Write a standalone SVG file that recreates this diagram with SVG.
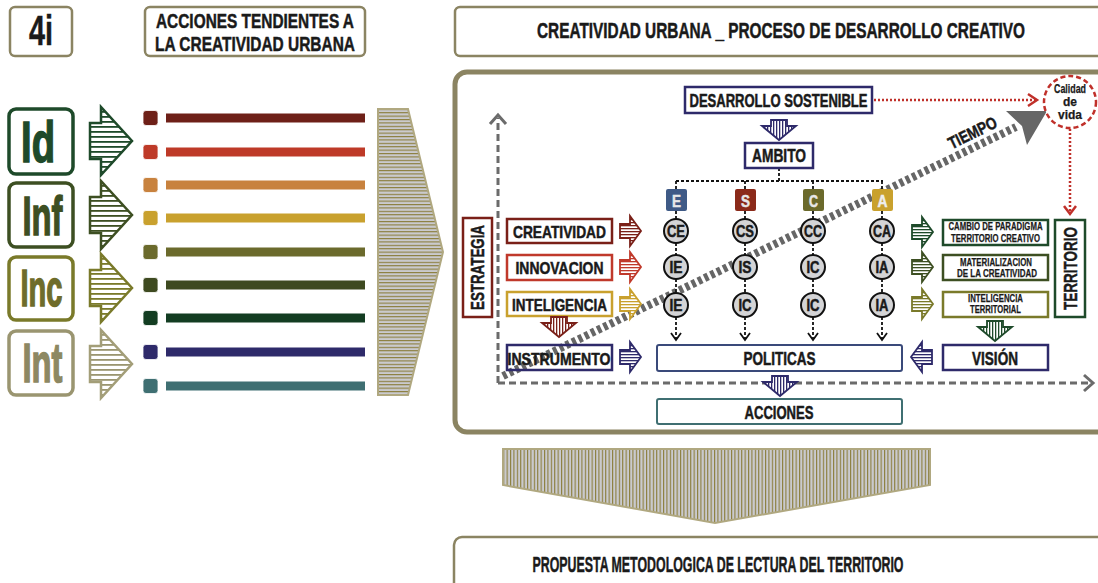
<svg xmlns="http://www.w3.org/2000/svg" xmlns:xlink="http://www.w3.org/1999/xlink" width="1098" height="583" viewBox="0 0 1098 583">
<style>
.t{font-family:"Liberation Sans Narrow","Liberation Sans",Arial,sans-serif;font-weight:bold;fill:#1a1a1a;stroke:#1a1a1a;stroke-width:0.5}
.s{stroke-width:0.25}
.m{text-anchor:middle}
.tb{fill:#fff;stroke:#8b8462;stroke-width:2.5}
.bx{fill:#fff;stroke-width:2.5}
.circ{fill:#d4d4d6;stroke:#111;stroke-width:2}
.dk{stroke:#111;stroke-width:1.8;stroke-dasharray:3 2;fill:none}
.ch{stroke:#111;stroke-width:1.8;fill:none}
.gax{stroke:#6b6b6b;stroke-width:3;stroke-dasharray:7 4;fill:none}
.gch{stroke:#6b6b6b;stroke-width:3;fill:none}
.red{stroke:#c0302a;stroke-width:2.5;fill:none}
.ico{fill:#fff;stroke-width:3.5}
.sq{stroke:#fff;stroke-width:0.8}
.la{stroke-width:2.5}
.sa{stroke-width:1.8}
</style>
<defs>
<pattern id="hs-dr" width="4" height="3" patternUnits="userSpaceOnUse"><rect width="4" height="3" fill="#fff"/><rect width="4" height="1.3" fill="#7a2018"/></pattern>
<pattern id="hs-rd" width="4" height="3" patternUnits="userSpaceOnUse"><rect width="4" height="3" fill="#fff"/><rect width="4" height="1.3" fill="#c0392b"/></pattern>
<pattern id="hs-mu" width="4" height="3" patternUnits="userSpaceOnUse"><rect width="4" height="3" fill="#fff"/><rect width="4" height="1.3" fill="#c9a12e"/></pattern>
<pattern id="hs-nv" width="4" height="3" patternUnits="userSpaceOnUse"><rect width="4" height="3" fill="#fff"/><rect width="4" height="1.3" fill="#2e2a6a"/></pattern>
<pattern id="hs-gr" width="4" height="3" patternUnits="userSpaceOnUse"><rect width="4" height="3" fill="#fff"/><rect width="4" height="1.3" fill="#1e4a2a"/></pattern>
<pattern id="hs-og" width="4" height="3" patternUnits="userSpaceOnUse"><rect width="4" height="3" fill="#fff"/><rect width="4" height="1.3" fill="#3d4f22"/></pattern>
<pattern id="hs-ol" width="4" height="3" patternUnits="userSpaceOnUse"><rect width="4" height="3" fill="#fff"/><rect width="4" height="1.3" fill="#7a7a2a"/></pattern>
<pattern id="vs-nv" width="3" height="4" patternUnits="userSpaceOnUse"><rect width="3" height="4" fill="#fff"/><rect width="1.3" height="4" fill="#2e2a6a"/></pattern>
<pattern id="vs-dr" width="3" height="4" patternUnits="userSpaceOnUse"><rect width="3" height="4" fill="#fff"/><rect width="1.3" height="4" fill="#7a2018"/></pattern>
<pattern id="vs-gr" width="3" height="4" patternUnits="userSpaceOnUse"><rect width="3" height="4" fill="#fff"/><rect width="1.3" height="4" fill="#1e4a2a"/></pattern>
<pattern id="hl-1" width="5" height="5" patternUnits="userSpaceOnUse"><rect width="5" height="5" fill="#fff"/><rect width="5" height="1.8" fill="#1e4a2a"/></pattern>
<pattern id="hl-2" width="5" height="5" patternUnits="userSpaceOnUse"><rect width="5" height="5" fill="#fff"/><rect width="5" height="1.8" fill="#3d4f22"/></pattern>
<pattern id="hl-3" width="5" height="5" patternUnits="userSpaceOnUse"><rect width="5" height="5" fill="#fff"/><rect width="5" height="1.8" fill="#7a7a2a"/></pattern>
<pattern id="hl-4" width="5" height="5" patternUnits="userSpaceOnUse"><rect width="5" height="5" fill="#fff"/><rect width="5" height="1.8" fill="#9a9570"/></pattern>
<pattern id="bigH" width="6" height="3.4" patternUnits="userSpaceOnUse"><rect width="6" height="3.4" fill="#cacace"/><rect width="6" height="1.1" fill="#8a7d3a"/></pattern>
<pattern id="bigV" width="3.4" height="6" patternUnits="userSpaceOnUse"><rect width="3.4" height="6" fill="#cacace"/><rect width="1.1" height="6" fill="#8a7d3a"/></pattern>
<path id="arL" d="M-21,-18 H-10 V-34 L21,0 L-10,34 V18 H-21 Z"/>
<path id="arR" d="M-10,-7 H0 V-15 L11,0 L0,15 V7 H-10 Z"/>
<path id="arLeft" d="M10,-7 H0 V-15 L-11,0 L0,15 V7 H10 Z"/>
<path id="arD" d="M-8,-10 H8 V-4 H17 L0,10 L-17,-4 H-8 Z"/>
</defs>

<!-- title boxes -->
<g id="n-4i"><rect class="tb" x="10" y="7" width="62" height="49" rx="5"/><text class="t m" x="41" y="45" font-size="42" textLength="24" lengthAdjust="spacingAndGlyphs" stroke-width="0.8">4i</text></g>
<g id="n-acciones-tend"><rect class="tb" x="145" y="7" width="220" height="49" rx="5"/>
<text class="t m" x="255" y="28" font-size="21" textLength="198" lengthAdjust="spacingAndGlyphs">ACCIONES TENDIENTES A</text>
<text class="t m" x="255" y="51" font-size="21" textLength="200" lengthAdjust="spacingAndGlyphs">LA CREATIVIDAD URBANA</text></g>
<g id="n-titulo"><rect class="tb" x="455" y="7" width="680" height="49" rx="5"/>
<text class="t m" x="781" y="38" font-size="22" textLength="488" lengthAdjust="spacingAndGlyphs">CREATIVIDAD URBANA _ PROCESO DE DESARROLLO CREATIVO</text></g>

<!-- left icons -->
<g id="n-id"><rect class="ico" x="9" y="109" width="64" height="65" rx="7" stroke="#1e4a2a"/><text class="t m" x="38" y="162" font-size="58" style="fill:#1e4a2a;stroke:#1e4a2a;stroke-width:1.5" textLength="34" lengthAdjust="spacingAndGlyphs">Id</text></g>
<g id="n-inf"><rect class="ico" x="9" y="183" width="64" height="64" rx="7" stroke="#3d4f22"/><text class="t m" x="42.5" y="235" font-size="55" style="fill:#3d4f22;stroke:#3d4f22;stroke-width:1.5" textLength="40" lengthAdjust="spacingAndGlyphs">Inf</text></g>
<g id="n-inc"><rect class="ico" x="9" y="257" width="64" height="63" rx="7" stroke="#7a7a2a"/><text class="t m" x="41.5" y="306" font-size="52" style="fill:#6e6c2a;stroke:#6e6c2a;stroke-width:1.5" textLength="42" lengthAdjust="spacingAndGlyphs">Inc</text></g>
<g id="n-int"><rect class="ico" x="9" y="331" width="64" height="64" rx="7" stroke="#9a9570"/><text class="t m" x="42.5" y="382" font-size="55" style="fill:#8d8862;stroke:#8d8862;stroke-width:1.5" textLength="40" lengthAdjust="spacingAndGlyphs">Int</text></g>

<g id="left-arrows">
<use href="#arL" x="111" y="141" fill="url(#hl-1)" stroke="#1e4a2a" class="la"/>
<use href="#arL" x="111" y="215" fill="url(#hl-2)" stroke="#3d4f22" class="la"/>
<use href="#arL" x="111" y="288" fill="url(#hl-3)" stroke="#7a7a2a" class="la"/>
<use href="#arL" x="111" y="364" fill="url(#hl-4)" stroke="#a39e78" class="la"/>
</g>

<g id="color-bars">
<rect class="sq" x="143" y="110.5" width="15" height="15" rx="3" fill="#6e2018"/><rect x="166" y="113.5" width="199" height="9" fill="#6e2018"/>
<rect class="sq" x="143" y="144.5" width="15" height="15" rx="3" fill="#be3a28"/><rect x="166" y="147.5" width="199" height="9" fill="#be3a28"/>
<rect class="sq" x="143" y="177.5" width="15" height="15" rx="3" fill="#c8823e"/><rect x="166" y="180.5" width="199" height="9" fill="#c8823e"/>
<rect class="sq" x="143" y="210.5" width="15" height="15" rx="3" fill="#c9a12e"/><rect x="166" y="213.5" width="199" height="9" fill="#c9a12e"/>
<rect class="sq" x="143" y="244.5" width="15" height="15" rx="3" fill="#6b6a2c"/><rect x="166" y="247.5" width="199" height="9" fill="#6b6a2c"/>
<rect class="sq" x="143" y="277.5" width="15" height="15" rx="3" fill="#3e4a20"/><rect x="166" y="280.5" width="199" height="9" fill="#3e4a20"/>
<rect class="sq" x="143" y="310.5" width="15" height="15" rx="3" fill="#133d22"/><rect x="166" y="313.5" width="199" height="9" fill="#133d22"/>
<rect class="sq" x="143" y="344.5" width="15" height="15" rx="3" fill="#2e2a6a"/><rect x="166" y="347.5" width="199" height="9" fill="#2e2a6a"/>
<rect class="sq" x="143" y="378.5" width="15" height="15" rx="3" fill="#3f6f72"/><rect x="166" y="381.5" width="199" height="9" fill="#3f6f72"/>
</g>

<g id="big-arrow-right"><polygon points="378,109 408,109 443,252 408,395 378,395" fill="url(#bigH)" stroke="#b0a880" stroke-width="2"/></g>

<!-- main frame -->
<g id="frame"><rect x="455" y="72" width="680" height="360" rx="12" fill="#fff" stroke="#8b8462" stroke-width="5"/></g>

<g id="connectors">
<line class="gax" x1="498" y1="383" x2="498" y2="118"/>
<polyline class="gch" points="490,124 498,115 506,124"/>
<line class="gax" x1="498" y1="383" x2="1090" y2="383"/>
<polyline class="gch" points="1084,375 1093,383 1084,391"/>
<line x1="503" y1="376" x2="1016" y2="127" stroke="#666" stroke-width="8" stroke-dasharray="4 3"/>
<polygon points="1047,111 1027,145 1022,126 1006,111" fill="#666"/>
<line class="red" x1="874" y1="100" x2="1036" y2="100" stroke-dasharray="2 2"/>
<polyline class="red" points="1028,94 1037,100 1028,106"/>
<line class="red" x1="1070" y1="129" x2="1070" y2="213" stroke-dasharray="2 2"/>
<polyline class="red" points="1064,206 1070,214 1076,206"/>
<path class="dk" d="M779,168 V181 M676,181 H883 M676,181 V189 M745,181 V189 M813,181 V189 M882,181 V189"/>
<path class="dk" d="M676,211 V219 M676,243 V255 M676,279 V293 M676,317 V338 M745,211 V219 M745,243 V255 M745,279 V293 M745,317 V338 M813,211 V219 M813,243 V255 M813,279 V293 M813,317 V338 M882,211 V219 M882,243 V255 M882,279 V293 M882,317 V338"/>
<path class="ch" d="M671,333 L676,340 L681,333 M740,333 L745,340 L750,333 M808,333 L813,340 L818,333 M877,333 L882,340 L887,333"/>
</g>

<g id="n-tiempo"><text class="t m" x="975" y="138" font-size="17" transform="rotate(-26 975 138)" textLength="52" lengthAdjust="spacingAndGlyphs">TIEMPO</text></g>

<g id="n-desarrollo"><rect class="bx" x="685" y="87" width="187" height="26" stroke="#2e2a6a"/><text class="t m" x="778.5" y="106.5" font-size="18" textLength="178" lengthAdjust="spacingAndGlyphs">DESARROLLO SOSTENIBLE</text></g>
<g id="n-calidad"><circle cx="1070" cy="102" r="26" fill="#fff" stroke="#c0302a" stroke-width="2.5" stroke-dasharray="5 3"/>
<text class="t m s" x="1070" y="93" font-size="12" textLength="32" lengthAdjust="spacingAndGlyphs">Calidad</text><text class="t m s" x="1070" y="106" font-size="12">de</text><text class="t m s" x="1070" y="119" font-size="12">vida</text></g>
<g id="a-des-amb"><use href="#arD" x="779" y="130" fill="url(#vs-nv)" stroke="#2e2a6a" class="sa"/></g>
<g id="n-ambito"><rect class="bx" x="745" y="143" width="68" height="25" stroke="#2e2a6a"/><text class="t m" x="779" y="162" font-size="18" textLength="54" lengthAdjust="spacingAndGlyphs">AMBITO</text></g>

<g id="n-e"><rect x="666" y="189" width="21" height="22" rx="2" fill="#3f5a86"/><text class="t m" x="676.5" y="207" font-size="17" style="fill:#e8e8e8;stroke:#e8e8e8" textLength="9" lengthAdjust="spacingAndGlyphs">E</text></g>
<g id="n-s"><rect x="735" y="189" width="21" height="22" rx="2" fill="#8b2a1a"/><text class="t m" x="745.5" y="207" font-size="17" style="fill:#e8e8e8;stroke:#e8e8e8" textLength="9" lengthAdjust="spacingAndGlyphs">S</text></g>
<g id="n-c"><rect x="803" y="189" width="21" height="22" rx="2" fill="#6b6a2c"/><text class="t m" x="813.5" y="207" font-size="17" style="fill:#e8e8e8;stroke:#e8e8e8" textLength="9" lengthAdjust="spacingAndGlyphs">C</text></g>
<g id="n-a"><rect x="872" y="189" width="21" height="22" rx="2" fill="#c9a12e"/><text class="t m" x="882.5" y="207" font-size="17" style="fill:#eee;stroke:#eee" textLength="10" lengthAdjust="spacingAndGlyphs">A</text></g>

<g id="circles">
<g id="c-ce"><circle class="circ" cx="676" cy="231" r="12"/><text class="t m" x="676" y="237" font-size="16" textLength="18" lengthAdjust="spacingAndGlyphs">CE</text></g>
<g id="c-cs"><circle class="circ" cx="745" cy="231" r="12"/><text class="t m" x="745" y="237" font-size="16" textLength="18" lengthAdjust="spacingAndGlyphs">CS</text></g>
<g id="c-cc"><circle class="circ" cx="813" cy="231" r="12"/><text class="t m" x="813" y="237" font-size="16" textLength="18" lengthAdjust="spacingAndGlyphs">CC</text></g>
<g id="c-ca"><circle class="circ" cx="882" cy="231" r="12"/><text class="t m" x="882" y="237" font-size="16" textLength="18" lengthAdjust="spacingAndGlyphs">CA</text></g>
<g id="c-ie1"><circle class="circ" cx="676" cy="267" r="12"/><text class="t m" x="676" y="273" font-size="16" textLength="13" lengthAdjust="spacingAndGlyphs">IE</text></g>
<g id="c-is"><circle class="circ" cx="745" cy="267" r="12"/><text class="t m" x="745" y="273" font-size="16" textLength="13" lengthAdjust="spacingAndGlyphs">IS</text></g>
<g id="c-ic1"><circle class="circ" cx="813" cy="267" r="12"/><text class="t m" x="813" y="273" font-size="16" textLength="13" lengthAdjust="spacingAndGlyphs">IC</text></g>
<g id="c-ia1"><circle class="circ" cx="882" cy="267" r="12"/><text class="t m" x="882" y="273" font-size="16" textLength="13" lengthAdjust="spacingAndGlyphs">IA</text></g>
<g id="c-ie2"><circle class="circ" cx="676" cy="305" r="12"/><text class="t m" x="676" y="311" font-size="16" textLength="13" lengthAdjust="spacingAndGlyphs">IE</text></g>
<g id="c-ic2"><circle class="circ" cx="745" cy="305" r="12"/><text class="t m" x="745" y="311" font-size="16" textLength="13" lengthAdjust="spacingAndGlyphs">IC</text></g>
<g id="c-ic3"><circle class="circ" cx="813" cy="305" r="12"/><text class="t m" x="813" y="311" font-size="16" textLength="13" lengthAdjust="spacingAndGlyphs">IC</text></g>
<g id="c-ia2"><circle class="circ" cx="882" cy="305" r="12"/><text class="t m" x="882" y="311" font-size="16" textLength="13" lengthAdjust="spacingAndGlyphs">IA</text></g>
</g>

<g id="n-estrategia"><rect class="bx" x="463" y="218" width="29" height="99" stroke="#7a2018"/><text class="t m" x="484" y="267.5" font-size="19" transform="rotate(-90 484 267.5)" textLength="85" lengthAdjust="spacingAndGlyphs">ESTRATEGIA</text></g>
<g id="n-creatividad"><rect class="bx" x="507" y="219" width="105" height="24" stroke="#7a2018"/><text class="t m" x="559.5" y="237.5" font-size="17" textLength="93" lengthAdjust="spacingAndGlyphs">CREATIVIDAD</text></g>
<g id="n-innovacion"><rect class="bx" x="507" y="255" width="105" height="25" stroke="#c0392b"/><text class="t m" x="559.5" y="274" font-size="17" textLength="88" lengthAdjust="spacingAndGlyphs">INNOVACION</text></g>
<g id="n-inteligencia"><rect class="bx" x="507" y="292" width="105" height="24" stroke="#c9a12e"/><text class="t m" x="559.5" y="310.5" font-size="17" textLength="95" lengthAdjust="spacingAndGlyphs">INTELIGENCIA</text></g>
<g id="n-instrumento"><rect x="507" y="345" width="105" height="25" fill="none" stroke="#2e2a6a" stroke-width="2.5"/><text class="t m" x="559" y="364.5" font-size="17" textLength="103" lengthAdjust="spacingAndGlyphs">INSTRUMENTO</text></g>

<g id="small-arrows">
<use href="#arR" x="630" y="231" fill="url(#hs-dr)" stroke="#7a2018" class="sa"/>
<use href="#arR" x="630" y="267" fill="url(#hs-rd)" stroke="#c0392b" class="sa"/>
<use href="#arR" x="630" y="304" fill="url(#hs-mu)" stroke="#c9a12e" class="sa"/>
<use href="#arR" x="630" y="357" fill="url(#hs-nv)" stroke="#2e2a6a" class="sa"/>
<use href="#arR" x="922" y="232" fill="url(#hs-gr)" stroke="#1e4a2a" class="sa"/>
<use href="#arR" x="922" y="267" fill="url(#hs-og)" stroke="#3d4f22" class="sa"/>
<use href="#arR" x="922" y="304" fill="url(#hs-ol)" stroke="#7a7a2a" class="sa"/>
<use href="#arLeft" x="922" y="357" fill="url(#hs-nv)" stroke="#2e2a6a" class="sa"/>
<use href="#arD" x="559" y="327" fill="url(#vs-dr)" stroke="#7a2018" class="sa"/>
<use href="#arD" x="995" y="331" fill="url(#vs-gr)" stroke="#1e4a2a" class="sa"/>
</g>

<g id="n-cambio"><rect class="bx" x="943" y="220" width="105" height="25" stroke="#1e4a2a"/>
<text class="t m s" x="995.5" y="230" font-size="10.5" textLength="94" lengthAdjust="spacingAndGlyphs">CAMBIO DE PARADIGMA</text>
<text class="t m s" x="995.5" y="242" font-size="10.5" textLength="89" lengthAdjust="spacingAndGlyphs">TERRITORIO CREATIVO</text></g>
<g id="n-materializacion"><rect class="bx" x="943" y="255" width="105" height="25" stroke="#3d4f22"/>
<text class="t m s" x="996" y="265.5" font-size="10.5" textLength="72" lengthAdjust="spacingAndGlyphs">MATERIALIZACION</text>
<text class="t m s" x="997" y="277" font-size="10.5" textLength="80" lengthAdjust="spacingAndGlyphs">DE LA CREATIVIDAD</text></g>
<g id="n-intterritorial"><rect class="bx" x="943" y="292" width="105" height="25" stroke="#7a7a2a"/>
<text class="t m s" x="995.5" y="301.5" font-size="10.5" textLength="55" lengthAdjust="spacingAndGlyphs">INTELIGENCIA</text>
<text class="t m s" x="995.5" y="313" font-size="10.5" textLength="51" lengthAdjust="spacingAndGlyphs">TERRITORIAL</text></g>
<g id="n-territorio"><rect class="bx" x="1055" y="220" width="30" height="97" stroke="#1e4a2a"/><text class="t m" x="1077" y="268.5" font-size="19" transform="rotate(-90 1077 268.5)" textLength="83" lengthAdjust="spacingAndGlyphs">TERRITORIO</text></g>
<g id="n-vision"><rect class="bx" x="943" y="345" width="105" height="25" stroke="#2e2a6a"/><text class="t m" x="995" y="364.5" font-size="18" textLength="46" lengthAdjust="spacingAndGlyphs">VISIÓN</text></g>

<g id="n-politicas"><rect class="bx" x="657" y="345" width="245" height="26" rx="2" stroke="#3a4a7a" style="stroke-width:2"/><text class="t m" x="779.5" y="365" font-size="18" textLength="72" lengthAdjust="spacingAndGlyphs">POLITICAS</text></g>
<g id="a-pol-acc"><use href="#arD" x="780" y="386" fill="url(#vs-nv)" stroke="#2e2a6a" class="sa"/></g>
<g id="n-acciones"><rect class="bx" x="657" y="399" width="245" height="25" rx="2" stroke="#3f6f72" style="stroke-width:2"/><text class="t m" x="779" y="418.5" font-size="18" textLength="69" lengthAdjust="spacingAndGlyphs">ACCIONES</text></g>

<g id="big-arrow-down"><polygon points="503,449 930,449 930,485 715,523 503,485" fill="url(#bigV)" stroke="#b0a880" stroke-width="2"/></g>

<g id="n-propuesta"><rect class="tb" x="454" y="537" width="700" height="80" rx="8"/>
<text class="t m" x="718" y="572" font-size="22" textLength="371" lengthAdjust="spacingAndGlyphs">PROPUESTA METODOLOGICA DE LECTURA DEL TERRITORIO</text></g>
</svg>
